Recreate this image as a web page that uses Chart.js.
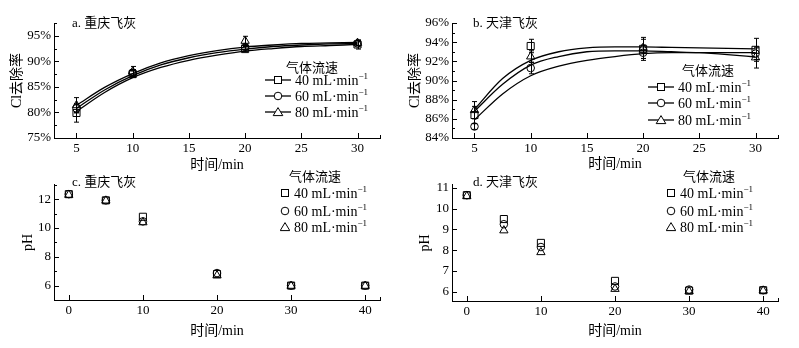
<!DOCTYPE html>
<html>
<head>
<meta charset="utf-8">
<script src="https://cdn.jsdelivr.net/npm/chart.js@4.4.0/dist/chart.umd.min.js"></script>
<style>
body { margin: 0; background: #fff; }
#wrap { position: relative; width: 799px; height: 348px; overflow: hidden; background: #fff;
  font-family: "Liberation Serif", "Noto Sans CJK SC", serif; color: #000; }
canvas { position: absolute; }
.txt { position: absolute; white-space: nowrap; line-height: 16px; font-size: 13px; }
.item { position: absolute; white-space: nowrap; line-height: 16px; font-size: 14px; }
.item svg { vertical-align: -1px; margin-right: 4px; }
sup { font-size: 9px; vertical-align: 6px; line-height: 0; }
</style>
</head>
<body>
<div id="wrap">
  <canvas id="chartA" width="400" height="174" style="left:0;top:0"></canvas>
  <canvas id="chartB" width="399" height="174" style="left:400px;top:0"></canvas>
  <canvas id="chartC" width="400" height="174" style="left:0;top:174px"></canvas>
  <canvas id="chartD" width="399" height="174" style="left:400px;top:174px"></canvas>
</div>
<script>
// time axes
const curveTimes = [5, 7.5, 10, 12.5, 15, 17.5, 20, 22.5, 25, 27.5, 30];
const pointTimes = [5, 10, 20, 30];
const phTimes = [0, 5, 10, 20, 30, 40];
const flowRates = ['40', '60', '80'];

// a. 重庆飞灰 - Cl removal (%)
const cqRemoval40 = [79.9, 87.5, 92.4, 93.3];
const cqRemoval60 = [80.8, 87.8, 92.8, 93.5];
const cqRemoval80 = [81.4, 88.0, 94.0, 93.6];
const cqErr40 = [1.8, 0.6, 0.5, 0.9];
const cqErr60 = [0.8, 0.6, 0.5, 0.5];
const cqErr80 = [1.5, 1.0, 0.9, 0.5];
const cqFit40 = [80.2, 83.9, 86.8, 88.8, 90.2, 91.2, 92.0, 92.5, 92.9, 93.1, 93.3];
const cqFit60 = [80.8, 84.4, 87.2, 89.3, 90.7, 91.7, 92.4, 92.9, 93.2, 93.4, 93.5];
const cqFit80 = [81.4, 84.9, 87.6, 89.7, 91.1, 92.1, 92.8, 93.2, 93.5, 93.6, 93.7];

// b. 天津飞灰 - Cl removal (%)
const tjRemoval40 = [86.4, 93.6, 93.3, 93.2];
const tjRemoval60 = [85.2, 91.3, 92.9, 92.8];
const tjRemoval80 = [86.9, 92.5, 93.4, 92.4];
const tjErr40 = [0.9, 0.7, 1.0, 1.2];
const tjErr60 = [0.3, 0.6, 0.8, 0.6];
const tjErr80 = [0.9, 0.6, 1.1, 1.1];
const tjFit40 = [87.0, 90.2, 92.1, 93.0, 93.4, 93.5, 93.5, 93.45, 93.4, 93.35, 93.3];
const tjFit60 = [85.9, 88.6, 90.5, 91.5, 92.1, 92.5, 92.8, 92.9, 92.9, 92.9, 92.9];
const tjFit80 = [86.8, 89.6, 91.6, 92.5, 93.0, 93.1, 93.1, 93.0, 92.9, 92.7, 92.45];

// c. 重庆飞灰 - pH
const cqPh40 = [12.35, 11.92, 10.78, 6.8, 6.0, 6.0];
const cqPh60 = [12.35, 11.92, 10.46, 6.87, 6.0, 6.0];
const cqPh80 = [12.3, 11.9, 10.39, 6.7, 5.98, 5.98];

// d. 天津飞灰 - pH
const tjPh40 = [10.65, 9.5, 8.35, 6.52, 6.05, 6.07];
const tjPh60 = [10.65, 9.25, 8.15, 6.25, 6.1, 6.07];
const tjPh80 = [10.6, 8.95, 7.9, 6.13, 6.02, 6.05];

// tick labels
const removalXTicks = [5, 10, 15, 20, 25, 30];
const phXTicks = [0, 10, 20, 30, 40];
const cqRemovalYTicks = [75, 80, 85, 90, 95];
const cqRemovalYMinor = [77.5, 82.5, 87.5, 92.5, 97.5];
const tjRemovalYTicks = [84, 86, 88, 90, 92, 94, 96];
const tjRemovalYMinor = [85, 87, 89, 91, 93, 95];
const cqPhYTicks = [6, 8, 10, 12];
const cqPhYMinor = [7, 9, 11, 13];
const tjPhYTicks = [6, 7, 8, 9, 10, 11];

const markerStyles = [
  { style: 'rect', radius: 5 },
  { style: 'circle', radius: 3.8 },
  { style: 'triangle', radius: 4.8 }
];

const serif = '"Liberation Serif", "Noto Sans CJK SC", serif';

function toPoints(xs, ys) {
  return xs.map((x, i) => ({ x: x, y: ys[i] }));
}

// inward tick marks, drawn on the scales the chart built
const inwardTicks = {
  id: 'inwardTicks',
  afterDraw(chart, args, opts) {
    const ctx = chart.ctx;
    const area = chart.chartArea;
    const xs = chart.scales.x;
    const ys = chart.scales.y;
    ctx.save();
    ctx.strokeStyle = '#000';
    ctx.lineWidth = 1;
    ctx.beginPath();
    const xMarks = opts.xMajor.map(v => [v, 5]).concat((opts.xMinor || []).map(v => [v, 3]));
    xMarks.forEach(([v, len]) => {
      const p = Math.round(xs.getPixelForValue(v)) + 0.5;
      ctx.moveTo(p, area.bottom);
      ctx.lineTo(p, area.bottom - len);
    });
    const yMarks = opts.yMajor.map(v => [v, 5]).concat((opts.yMinor || []).map(v => [v, 3]));
    yMarks.forEach(([v, len]) => {
      const p = Math.round(ys.getPixelForValue(v)) + 0.5;
      ctx.moveTo(area.left, p);
      ctx.lineTo(area.left + len, p);
    });
    ctx.stroke();
    ctx.restore();
  }
};

// vertical error bars for datasets that carry an "errors" array
const errorBars = {
  id: 'errorBars',
  afterDatasetsDraw(chart) {
    const ctx = chart.ctx;
    const ys = chart.scales.y;
    ctx.save();
    ctx.strokeStyle = '#000';
    ctx.lineWidth = 1;
    chart.data.datasets.forEach((ds, di) => {
      if (!ds.errors) return;
      const meta = chart.getDatasetMeta(di);
      meta.data.forEach((pt, i) => {
        const v = ds.data[i].y;
        const e = ds.errors[i];
        const x = Math.round(pt.x) + 0.5;
        const top = ys.getPixelForValue(v + e);
        const bot = ys.getPixelForValue(v - e);
        ctx.beginPath();
        ctx.moveTo(x, top); ctx.lineTo(x, bot);
        ctx.moveTo(x - 2.5, top); ctx.lineTo(x + 2.5, top);
        ctx.moveTo(x - 2.5, bot); ctx.lineTo(x + 2.5, bot);
        ctx.stroke();
      });
    });
    ctx.restore();
  }
};

function makeChart(id, cfg) {
  const datasets = [];
  if (cfg.fits) {
    cfg.fits.forEach(f => {
      datasets.push({
        type: 'line',
        data: toPoints(curveTimes, f),
        borderColor: '#000',
        borderWidth: 1.3,
        pointRadius: 0,
        cubicInterpolationMode: 'monotone',
        fill: false
      });
    });
  }
  cfg.series.forEach((s, i) => {
    datasets.push({
      type: 'scatter',
      data: toPoints(cfg.times, s),
      errors: cfg.errors ? cfg.errors[i] : null,
      pointStyle: markerStyles[i].style,
      pointRadius: markerStyles[i].radius,
      pointBackgroundColor: 'rgba(255,255,255,0)',
      pointBorderColor: '#000',
      pointBorderWidth: 1,
      showLine: false
    });
  });

  return new Chart(document.getElementById(id), {
    type: 'scatter',
    data: { datasets: datasets },
    plugins: [errorBars, inwardTicks],
    options: {
      responsive: false,
      animation: false,
      devicePixelRatio: 1,
      layout: { padding: { top: cfg.padTop, right: cfg.padRight, bottom: 0, left: 0 } },
      plugins: {
        legend: { display: false },
        tooltip: { enabled: false },
        inwardTicks: { xMajor: cfg.xTicks, xMinor: cfg.xMinor, yMajor: cfg.yTicks, yMinor: cfg.yMinor }
      },
      scales: {
        x: {
          type: 'linear',
          min: cfg.xMin, max: cfg.xMax,
          afterBuildTicks: s => { s.ticks = cfg.xTicks.map(v => ({ value: v })); },
          afterFit: s => { s.height = cfg.xHeight; },
          grid: { display: false, drawTicks: false },
          border: { display: true, color: '#000', width: 1 },
          ticks: { color: '#000', padding: 3, maxRotation: 0, font: { family: serif, size: 13 } },
          title: { display: true, text: '时间/min', color: '#000', padding: { top: 0, bottom: cfg.xTitlePad },
            font: { family: serif, size: 14 } }
        },
        y: {
          type: 'linear',
          min: cfg.yMin, max: cfg.yMax,
          afterBuildTicks: s => { s.ticks = cfg.yTicks.map(v => ({ value: v })); },
          afterFit: s => { s.width = cfg.yWidth; },
          grid: { display: false, drawTicks: false },
          border: { display: true, color: '#000', width: 1 },
          ticks: { color: '#000', padding: 3, font: { family: serif, size: 13 },
            callback: v => v + (cfg.percent ? '%' : '') },
          title: { display: true, text: cfg.yTitle, color: '#000', padding: { top: cfg.yTitlePad, bottom: 0 },
            font: { family: serif, size: 14 } }
        }
      }
    }
  });
}

makeChart('chartA', {
  times: pointTimes, series: [cqRemoval40, cqRemoval60, cqRemoval80],
  errors: [cqErr40, cqErr60, cqErr80], fits: [cqFit40, cqFit60, cqFit80],
  xMin: 3, xMax: 32, xTicks: removalXTicks, xMinor: [32],
  yMin: 75, yMax: 97.5, yTicks: cqRemovalYTicks, yMinor: cqRemovalYMinor, percent: true,
  yTitle: 'Cl去除率', padTop: 23, padRight: 20, xHeight: 36, yWidth: 54, xTitlePad: 0, yTitlePad: 8.6
});
makeChart('chartB', {
  times: pointTimes, series: [tjRemoval40, tjRemoval60, tjRemoval80],
  errors: [tjErr40, tjErr60, tjErr80], fits: [tjFit40, tjFit60, tjFit80],
  xMin: 3, xMax: 32, xTicks: removalXTicks, xMinor: [32],
  yMin: 84, yMax: 96, yTicks: tjRemovalYTicks, yMinor: tjRemovalYMinor, percent: true,
  yTitle: 'Cl去除率', padTop: 23, padRight: 21, xHeight: 36, yWidth: 52, xTitlePad: 1.6, yTitlePad: 6.6
});
makeChart('chartC', {
  times: phTimes, series: [cqPh40, cqPh60, cqPh80],
  xMin: -2, xMax: 42, xTicks: phXTicks, xMinor: [42],
  yMin: 5, yMax: 13, yTicks: cqPhYTicks, yMinor: cqPhYMinor, percent: false,
  yTitle: 'pH', padTop: 9, padRight: 20, xHeight: 48, yWidth: 54, xTitlePad: 8.6, yTitlePad: 19.6
});
makeChart('chartD', {
  times: phTimes, series: [tjPh40, tjPh60, tjPh80],
  xMin: -2, xMax: 42, xTicks: phXTicks, xMinor: [42],
  yMin: 5.55, yMax: 11.15, yTicks: tjPhYTicks, yMinor: [], percent: false,
  yTitle: 'pH', padTop: 9, padRight: 21, xHeight: 47, yWidth: 52, xTitlePad: 8.6, yTitlePad: 16.6
});

// panel labels and legends as HTML text
const wrap = document.getElementById('wrap');

function addText(html, left, top, cls) {
  const d = document.createElement('div');
  d.className = cls;
  d.style.left = left + 'px';
  d.style.top = top + 'px';
  d.innerHTML = html;
  wrap.appendChild(d);
}

function symbolSvg(i, withLine) {
  const w = withLine ? 26 : 10;
  const cx = w / 2, cy = 6;
  let shape;
  if (i === 0) shape = `<rect x="${cx - 3.5}" y="${cy - 3.5}" width="7" height="7" fill="#fff" stroke="#000"/>`;
  else if (i === 1) shape = `<circle cx="${cx}" cy="${cy}" r="3.8" fill="#fff" stroke="#000"/>`;
  else shape = `<polygon points="${cx},${cy - 4.4} ${cx + 4.8},${cy + 3.6} ${cx - 4.8},${cy + 3.6}" fill="#fff" stroke="#000"/>`;
  const line = withLine ? `<line x1="0" y1="${cy}" x2="${w}" y2="${cy}" stroke="#000" stroke-width="1.3"/>` : '';
  return `<svg width="${w}" height="12" viewBox="0 0 ${w} 12">${line}${shape}</svg>`;
}

function addLegend(titleCenterX, titleY, symX, rowYs, withLine) {
  addText('气体流速', titleCenterX - 26, titleY - 8, 'txt');
  flowRates.forEach((f, i) => {
    addText(symbolSvg(i, withLine) + '<span>' + f + ' mL·min<sup>−1</sup></span>', symX, rowYs[i] - 8, 'item');
  });
}

addText('a. 重庆飞灰', 72, 15, 'txt');
addText('b. 天津飞灰', 473, 15, 'txt');
addText('c. 重庆飞灰', 72, 174, 'txt');
addText('d. 天津飞灰', 473, 174, 'txt');

addLegend(312, 68, 265, [81, 97, 113], true);
addLegend(708, 71, 648, [88, 104, 121], true);
addLegend(315, 177, 280, [194, 212, 228], false);
addLegend(709, 177, 666, [194, 212, 228], false);
</script>
</body>
</html>
